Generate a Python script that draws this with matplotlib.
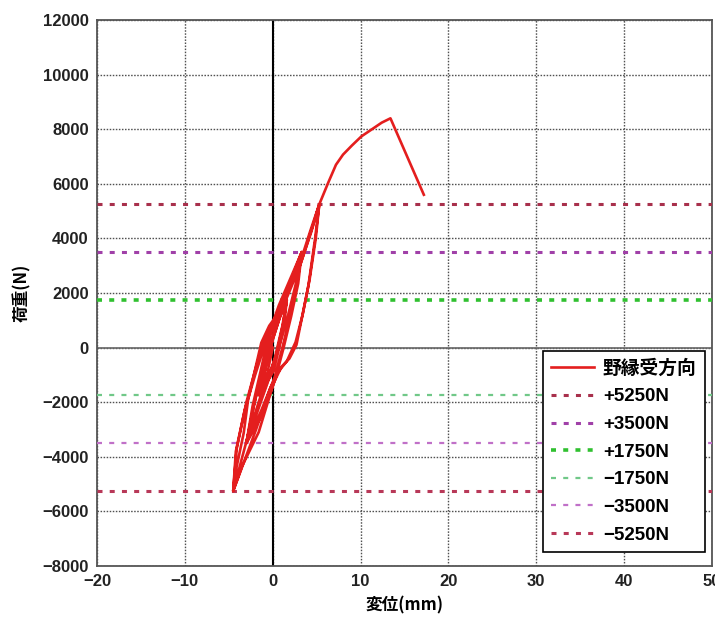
import matplotlib
matplotlib.use("Agg")
import matplotlib.pyplot as plt

plt.rcParams['font.family'] = ['Liberation Sans', 'Noto Sans CJK JP', 'DejaVu Sans']

# Load–displacement record (displacement in mm, load in N)
disp = [
    0.0, -0.6, -1.5,                       # to -1750
    -0.8, 0.0, 0.8, 1.6,                   # up to +1750
    1.2, 0.6, 0.0, -0.7, -1.5,
    -0.9, -0.1, 0.7, 1.6,
    1.3, 0.7, 0.1, -0.6, -1.5,
    -0.8, 0.0, 0.8, 1.6,
    1.1, 0.3, -0.6, -1.8, -3.0,            # to -3500
    -2.2, -1.2, -0.3, 0.8, 2.0, 3.3,       # up to +3500
    2.8, 2.0, 1.1, 0.2, -1.3, -3.0,
    -2.3, -1.3, -0.4, 0.7, 1.9, 3.3,
    2.9, 2.1, 1.2, 0.3, -1.1, -3.0,
    -2.2, -1.2, -0.3, 0.8, 2.0, 3.3,
    2.6, 1.6, 0.4, -1.2, -2.8, -4.5,       # to -5250
    -4.1, -3.3, -2.8, -1.3, -0.4, 0.5, 1.6, 3.0, 4.3, 5.3,
    4.8, 4.05, 3.2, 2.7, 1.9, 1.0, 0.1, -1.6, -3.5, -4.5,
    -4.1, -3.0, -1.8, -0.7, 0.4, 1.8, 3.2, 4.4, 5.3,
    4.9, 4.2, 3.4, 2.6, 1.6, 0.6, -0.3, -1.9, -3.4, -4.5,
    -4.2, -3.2, -2.0, -0.8, 0.3, 1.7, 3.1, 4.4, 5.3,
    6.3, 7.2, 8.0, 9.0, 10.1, 11.3, 12.4, 13.4, 15.3, 17.2,
]
load = [
    0, -900, -1750,
    -700, 300, 1100, 1750,
    900, 0, -800, -1300, -1750,
    -650, 350, 1150, 1750,
    850, -50, -850, -1250, -1750,
    -700, 300, 1100, 1750,
    800, -300, -1300, -2400, -3500,
    -2200, -800, 500, 1500, 2400, 3500,
    2400, 1200, 0, -1100, -2300, -3500,
    -2150, -750, 550, 1550, 2450, 3500,
    2350, 1150, -50, -1150, -2400, -3500,
    -2200, -800, 500, 1500, 2400, 3500,
    2300, 1000, -300, -1600, -3200, -5250,
    -4350, -3120, -1900, 180, 800, 1200, 2000, 3000, 4300, 5250,
    3950, 2250, 900, 100, -400, -700, -1300, -3100, -4350, -5250,
    -3700, -2000, -600, 500, 1100, 2100, 3100, 4300, 5250,
    4000, 2500, 1200, 200, -500, -900, -1500, -3000, -4300, -5250,
    -3800, -2300, -1000, 200, 900, 1900, 3000, 4250, 5250,
    6030, 6700, 7070, 7400, 7740, 8000, 8240, 8400, 7000, 5600,
]

ref_labels = ['+5250N', '+3500N', '+1750N', '\u22121750N', '\u22123500N', '\u22125250N']
ref_values = [5250, 3500, 1750, -1750, -3500, -5250]
ref_colors = ['#a8304c', '#a040a8', '#30c030', '#70c888', '#c070c8', '#b83858']
ref_widths = [2.2, 2.2, 2.6, 1.6, 1.6, 2.2]

xticks = [-20, -10, 0, 10, 20, 30, 40, 50]
yticks = list(range(-8000, 12001, 2000))

fig = plt.figure(figsize=(7.15, 6.28), dpi=100)
ax = fig.add_axes([0.1357, 0.0987, 0.8601, 0.8694])

ax.set_xlim(-20, 50)
ax.set_ylim(-8000, 12000)
ax.set_xticks(xticks)
ax.set_yticks(yticks)
ax.set_xticklabels([str(v).replace('-', '\u2212') for v in xticks])
ax.set_yticklabels([str(v).replace('-', '\u2212') for v in yticks])

ax.grid(True, linestyle=(0, (1.1, 1.1)), color='#505050', linewidth=1.0)
ax.set_axisbelow(True)
ax.axvline(0, color='black', linewidth=1.5, zorder=2)
ax.axhline(0, color='#666666', linewidth=1.2, zorder=2)

main, = ax.plot(disp, load, color='#e41e1e', linewidth=1.9, zorder=4,
                solid_joinstyle='round', label='野縁受方向')

handles = [main]
for v, lab, c, w in zip(ref_values, ref_labels, ref_colors, ref_widths):
    h, = ax.plot([-20, 50], [v, v], color=c, linewidth=w,
                 linestyle=(0, (3.6 / w, 5.2 / w)), zorder=3, label=lab)
    handles.append(h)

for s in ax.spines.values():
    s.set_color('#555555')
    s.set_linewidth(1.3)

ax.tick_params(axis='both', length=0, labelsize=12, pad=6)
for t in ax.get_xticklabels() + ax.get_yticklabels():
    t.set_fontweight('bold')
    t.set_color('#222222')

ax.set_xlabel('変位(mm)', fontsize=12, fontweight='bold',
              family=['Noto Sans CJK JP', 'DejaVu Sans'], labelpad=5)
ax.set_ylabel('荷重(N)', fontsize=12, fontweight='bold',
              family=['Noto Sans CJK JP', 'DejaVu Sans'], labelpad=8)

leg = ax.legend(handles=handles, loc='lower right', bbox_to_anchor=(0.9886, 0.0256),
                borderaxespad=0, frameon=True, fancybox=False, edgecolor='black',
                framealpha=1,
                prop={'family': ['Liberation Sans', 'Noto Sans CJK JP'], 'size': 13.5,
                      'weight': 'bold'},
                handlelength=2.3, labelspacing=0.56, borderpad=0.45, handletextpad=0.45)
leg.get_frame().set_linewidth(1.2)
leg.set_zorder(6)

fig.savefig('out.png', dpi=100)
